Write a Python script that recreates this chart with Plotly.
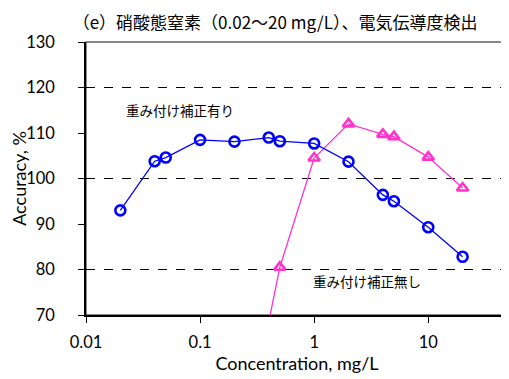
import math
import plotly.graph_objects as go

title_text = "（e）硝酸態窒素（0.02～20 mg/L）、電気伝導度検出"
conc_weighted = [0.02, 0.04, 0.05, 0.1, 0.2, 0.4, 0.5, 1, 2, 4, 5, 10, 20]
acc_weighted = [93.0, 103.8, 104.6, 108.5, 108.1, 109.0, 108.2, 107.7, 103.7, 96.4, 95.0, 89.3, 82.8]
conc_unweighted = [0.4, 0.5, 1, 2, 4, 5, 10, 20]
acc_unweighted = [68.5, 80.5, 104.5, 112.0, 109.7, 109.2, 104.7, 97.9]
label_weighted = "重み付け補正有り"
label_unweighted = "重み付け補正無し"
x_tickvals = [0.01, 0.1, 1, 10]
x_ticktext = ["0.01", "0.1", "1", "10"]
y_ticks = [70, 80, 90, 100, 110, 120, 130]
grid_values = [80, 100, 120]

tick_font = dict(family="Lato, Liberation Sans, sans-serif", size=16.5, color="black")
title_font = dict(family="Lato, Liberation Sans, sans-serif", size=18, color="black")
cjk = "Noto Sans CJK JP"

fig = go.Figure()
fig.add_trace(go.Scatter(
    x=conc_unweighted, y=acc_unweighted, mode="lines+markers",
    line=dict(color="#FF33CC", width=1.3),
    marker=dict(symbol="triangle-up-open", size=10, color="#FF33CC", line=dict(width=2.6, color="#FF33CC")),
    showlegend=False))
fig.add_trace(go.Scatter(
    x=conc_weighted, y=acc_weighted, mode="lines+markers",
    line=dict(color="#0000FF", width=1.3),
    marker=dict(symbol="circle-open", size=10, color="#0000FF", line=dict(width=2.6, color="#0000FF")),
    showlegend=False))

shapes = [dict(type="rect", xref="paper", yref="paper", x0=0, x1=1, y0=0, y1=1,
               line=dict(color="#606060", width=1.5), layer="below")]
for g in grid_values:
    shapes.append(dict(type="line", xref="paper", yref="y", x0=0, x1=1, y0=g, y1=g,
                       line=dict(color="black", width=1, dash="dash"), layer="below"))

# page body has an 8px default margin, so the figure is 8px smaller on each offset side
fig.update_layout(
    width=501, height=371,
    margin=dict(l=78, r=1, t=34, b=64, autoexpand=False),
    paper_bgcolor="white", plot_bgcolor="white",
    title=dict(text=title_text, x=0.533, xanchor="center", y=0.960, yanchor="middle",
               font=dict(family=cjk, size=17, color="black")),
    shapes=shapes,
    annotations=[
        dict(text=label_weighted, x=math.log10(0.0215), y=115.0, xref="x", yref="y", xanchor="left",
             yanchor="middle", showarrow=False,
             font=dict(family=cjk, size=13.5, color="black")),
        dict(text=label_unweighted, x=math.log10(0.93), y=77.5, xref="x", yref="y", xanchor="left",
             yanchor="middle", showarrow=False,
             font=dict(family=cjk, size=13.5, color="black")),
    ],
)
fig.update_xaxes(type="log", range=[-2, 1.699], tickvals=x_tickvals, ticktext=x_ticktext,
                 showgrid=False, zeroline=False, showline=True, linecolor="black", linewidth=1.5,
                 ticks="outside", ticklen=6, tickcolor="black", tickfont=tick_font, automargin=False,
                 ticklabelstandoff=5,
                 title=dict(text="Concentration, mg/L", font=title_font, standoff=6))
fig.update_yaxes(range=[70, 130], tickvals=y_ticks, showgrid=False, zeroline=False,
                 showline=True, linecolor="black", linewidth=1.5, automargin=False,
                 ticks="outside", ticklen=6, tickcolor="black", tickfont=tick_font,
                 ticklabelstandoff=20,
                 title=dict(text="Accuracy, %", font=title_font, standoff=5))
fig.write_html("out.html")
